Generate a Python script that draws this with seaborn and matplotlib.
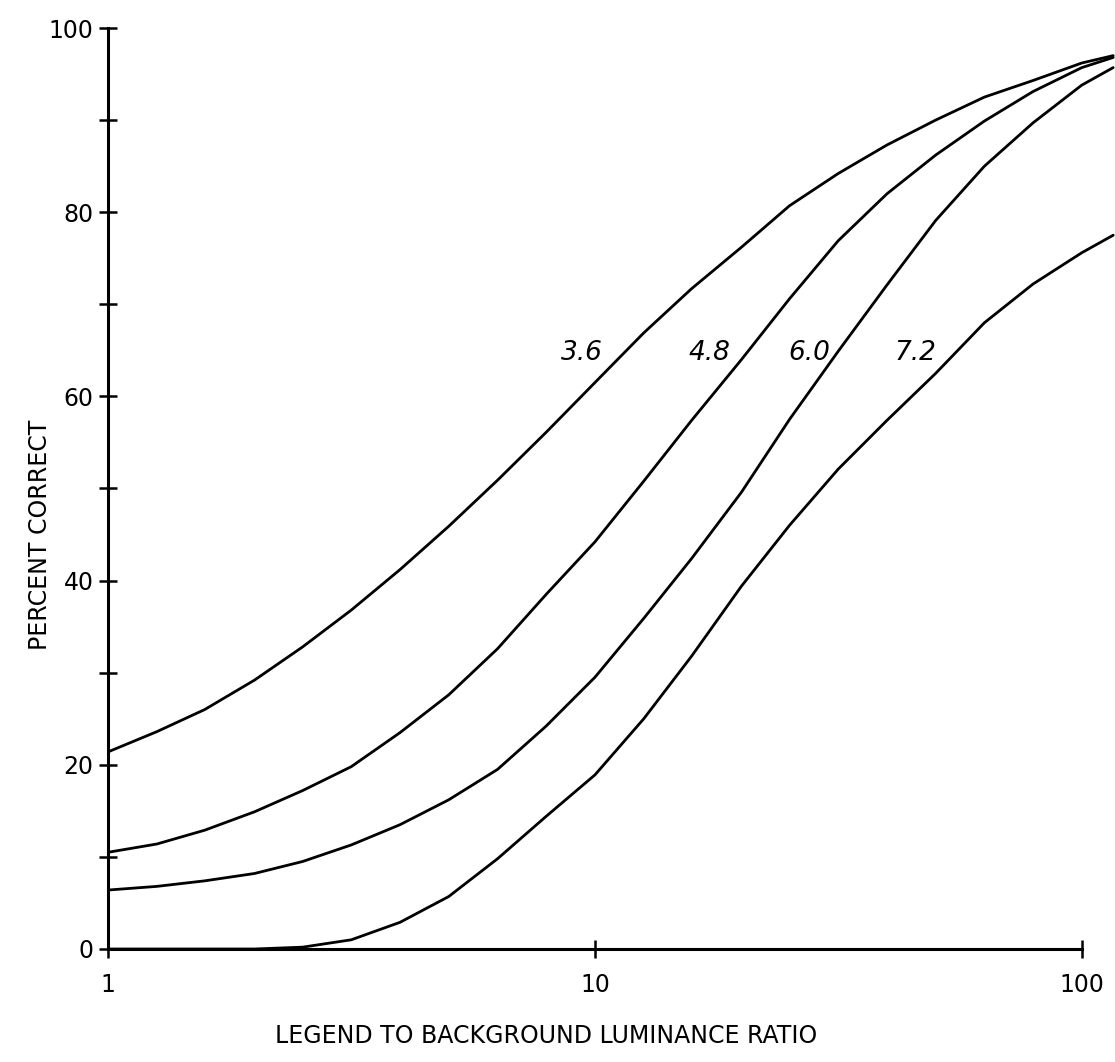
import matplotlib
matplotlib.use("Agg")
import matplotlib.pyplot as plt
import numpy as np
import pandas as pd
import seaborn as sns
from matplotlib.ticker import NullLocator, FixedLocator

# ---- data ----
ratio = [1, 1.26, 1.58, 2.0, 2.51, 3.16, 3.98, 5.01, 6.31, 7.94, 10,
         12.6, 15.8, 20.0, 25.1, 31.6, 39.8, 50.1, 63.1, 79.4, 100, 116]

pct_36 = [21.4, 23.6, 26.0, 29.2, 32.8, 36.8, 41.2, 45.9, 50.9, 56.1, 61.5,
          66.9, 71.7, 76.2, 80.7, 84.2, 87.3, 90.0, 92.5, 94.3, 96.2, 97.0]
pct_48 = [10.5, 11.4, 12.9, 14.9, 17.2, 19.8, 23.5, 27.6, 32.6, 38.5, 44.2,
          50.8, 57.4, 64.0, 70.6, 76.9, 82.0, 86.2, 89.9, 93.1, 95.7, 96.8]
pct_60 = [6.4, 6.8, 7.4, 8.2, 9.5, 11.3, 13.5, 16.2, 19.5, 24.2, 29.5,
          35.9, 42.4, 49.6, 57.5, 64.9, 72.1, 79.1, 85.0, 89.7, 93.8, 95.7]
pct_72 = [0.0, 0.0, 0.0, 0.0, 0.2, 1.0, 2.9, 5.7, 9.8, 14.4, 18.9,
          25.0, 31.8, 39.4, 46.0, 52.1, 57.4, 62.5, 68.0, 72.2, 75.6, 77.5]

curve_names = ["3.6", "4.8", "6.0", "7.2"]
label_x = [9.4, 17.2, 27.5, 45.6]
label_y = [64.7, 64.7, 64.7, 64.7]

x_ticks = [1, 10, 100]
x_ticklabels = ["1", "10", "100"]
y_ticks = [0, 10, 20, 30, 40, 50, 60, 70, 80, 90, 100]
y_ticklabels = ["0", "", "20", "", "40", "", "60", "", "80", "", "100"]

# ---- build long-form table ----
frames = []
for name, vals in zip(curve_names, [pct_36, pct_48, pct_60, pct_72]):
    frames.append(pd.DataFrame({"ratio": ratio, "pct": vals, "curve": name}))
df = pd.concat(frames, ignore_index=True)

sns.set_theme(style="white")
plt.rcParams["font.family"] = ["DejaVu Sans"]

fig = plt.figure(figsize=(11.15, 10.62), dpi=100)
ax = fig.add_axes([108 / 1115, 113 / 1062, 1007 / 1115, 921 / 1062])
ax.set_xscale("log")

sns.lineplot(data=df, x="ratio", y="pct", hue="curve",
             palette=["black"] * 4, estimator=None, legend=False,
             linewidth=2.0, ax=ax, sort=True)

ax.set_xlim(1, 117)
ax.set_ylim(0, 100)

for s in ["top", "right"]:
    ax.spines[s].set_visible(False)
for s in ["left", "bottom"]:
    ax.spines[s].set_linewidth(2.2)
    ax.spines[s].set_color("black")
ax.spines["bottom"].set_bounds(1, 100)

ax.xaxis.set_major_locator(FixedLocator(x_ticks))
ax.set_xticklabels(x_ticklabels)
ax.xaxis.set_minor_locator(NullLocator())
ax.set_yticks(y_ticks)
ax.set_yticklabels(y_ticklabels)

ax.tick_params(axis="both", which="major", direction="inout", length=13,
               width=1.8, colors="black", labelsize=17,
               bottom=True, left=True, top=False, right=False)
ax.tick_params(axis="x", pad=11)
ax.tick_params(axis="y", pad=4)

for name, lx, ly in zip(curve_names, label_x, label_y):
    ax.text(lx, ly, name, fontsize=19, fontstyle="italic",
            ha="center", va="center", color="black")

ax.set_xlabel("LEGEND TO BACKGROUND LUMINANCE RATIO", fontsize=17, color="black")
ax.set_ylabel("PERCENT CORRECT", fontsize=17, color="black")
ax.xaxis.set_label_coords((546 - 108) / 1007, (949 - 1024) / 921)
ax.yaxis.set_label_coords((52 - 108) / 1007, (949 - 535) / 921)

ax.grid(False)
fig.savefig("out.png", dpi=100, facecolor="white")
